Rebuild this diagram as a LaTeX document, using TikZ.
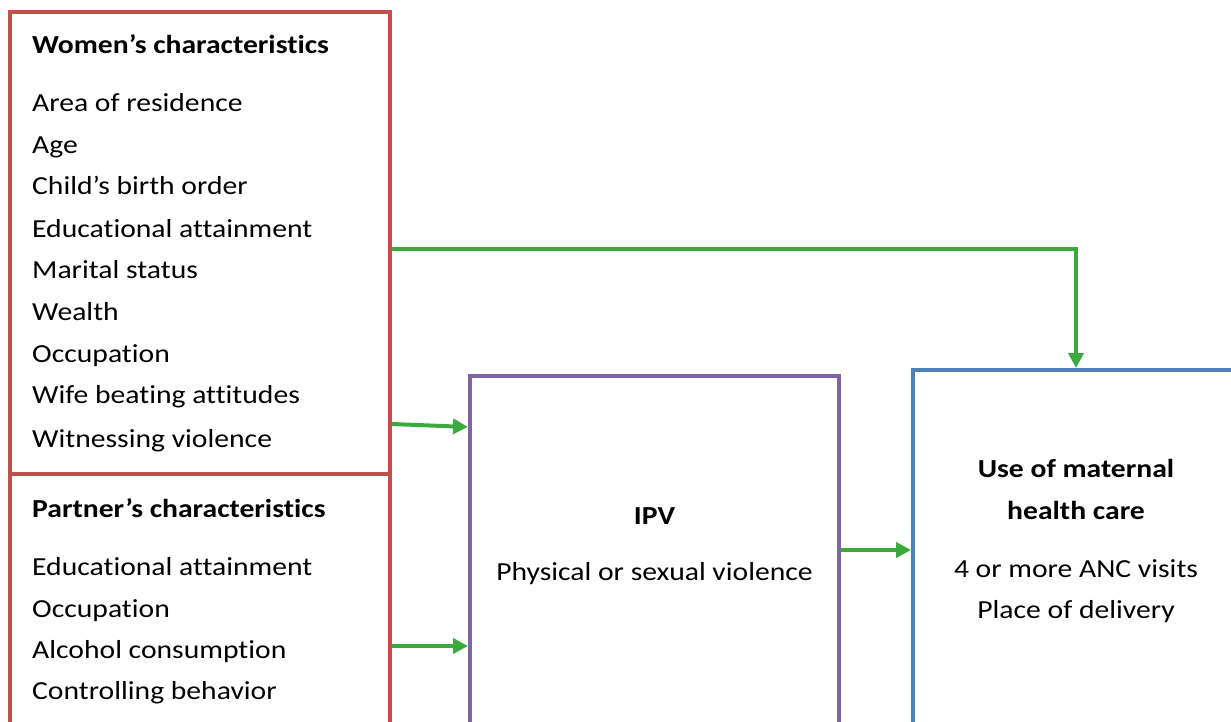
\documentclass[tikz,border=0pt]{standalone}
\usepackage{fontspec}
\setmainfont{Carlito}[FakeStretch=1.14, Ligatures={NoCommon}]
\usetikzlibrary{arrows.meta}
\definecolor{boxred}{HTML}{C0504D}
\definecolor{boxpurple}{HTML}{8064A2}
\definecolor{boxblue}{HTML}{4F81BD}
\definecolor{arrowgreen}{HTML}{3AAA3C}
\tikzset{
	box/.style={draw, line width=4pt, inner sep=0pt},
	item/.style={anchor=base west, inner sep=0pt, font=\fontsize{26}{31}\selectfont},
	head/.style={item, font=\fontsize{26}{31}\selectfont\bfseries},
	label/.style={anchor=base, inner sep=0pt, font=\fontsize{26}{31}\selectfont},
	arrow/.style={line width=4pt, draw=arrowgreen, -{Triangle[length=15pt, width=15pt]}}
}
\begin{document}
\begin{tikzpicture}[x=1pt, y=-1pt]
	\useasboundingbox (0,0) rectangle (1231,722);
	\clip (0,0) rectangle (1231,722);
	% boxes
	\node [box, draw=boxred, minimum width=380pt, minimum height=462pt] (women) at (200,243) {};
	\node [box, draw=boxred, minimum width=380pt, minimum height=300pt] (partner) at (200,624) {};
	\node [box, draw=boxpurple, minimum width=369pt, minimum height=380pt] (ipv) at (654.5,566) {};
	\node [box, draw=boxblue, minimum width=326pt, minimum height=380pt] (use) at (1076,560) {};
	% women
	\node [head] (womenhead) at (32,54) {Women’s characteristics};
	\node [item] (residence) at (32,112) {Area of residence};
	\node [item] (age) at (32,154) {Age};
	\node [item] (birth) at (32,195) {Child’s birth order};
	\node [item] (educ) at (32,237) {Educational attainment};
	\node [item] (marital) at (32,278) {Marital status};
	\node [item] (wealth) at (32,320) {Wealth};
	\node [item] (occup) at (32,362) {Occupation};
	\node [item] (beating) at (32,403) {Wife beating attitudes};
	\node [item] (witness) at (32,447) {Witnessing violence};
	% partner
	\node [head] (partnerhead) at (32,517) {Partner’s characteristics};
	\node [item] (peduc) at (32,575) {Educational attainment};
	\node [item] (poccup) at (32,617) {Occupation};
	\node [item] (alcohol) at (32,658) {Alcohol consumption};
	\node [item] (control) at (32,699) {Controlling behavior};
	% ipv
	\node [label, font=\fontsize{26}{31}\selectfont\bfseries] (ipvhead) at (654.5,524) {IPV};
	\node [label] (violence) at (654.5,580) {Physical or sexual violence};
	% outcome
	\node [label, font=\fontsize{26}{31}\selectfont\bfseries] (usehead) at (1076,477) {Use of maternal};
	\node [label, font=\fontsize{26}{31}\selectfont\bfseries] (usehead2) at (1076,519) {health care};
	\node [label] (anc) at (1076,577) {4 or more ANC visits};
	\node [label] (delivery) at (1076,618) {Place of delivery};
	% arrows
	\coordinate (wv) at (0,424);
	\coordinate (wv2) at (0,427);
	\coordinate (pv) at (0,646);
	\coordinate (vu) at (0,550);
	\coordinate (wu) at (0,249);
	\draw [arrow] (women.east |- wv) -- (ipv.west |- wv2);
	\draw [arrow] (partner.east |- pv) -- (ipv.west |- pv);
	\draw [arrow] (ipv.east |- vu) -- (use.west |- vu);
	\draw [arrow] (women.east |- wu) -| (use.north);
\end{tikzpicture}
\end{document}
